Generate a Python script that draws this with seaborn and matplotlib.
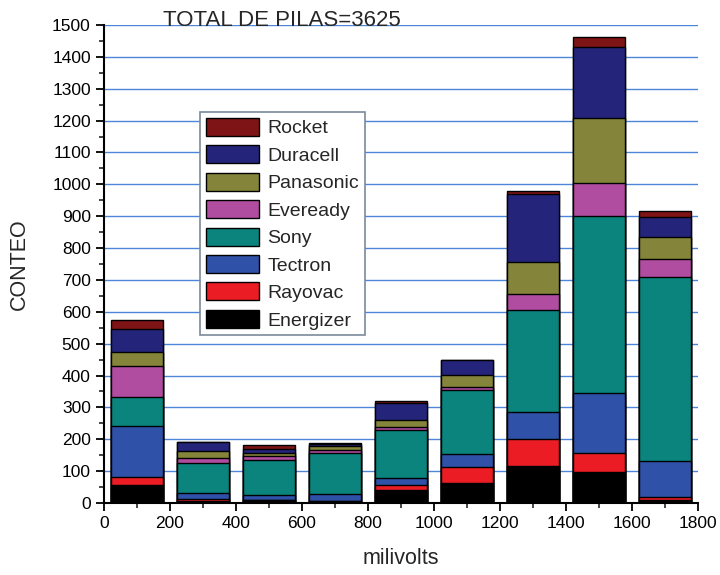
import numpy as np
import pandas as pd
import matplotlib
matplotlib.use("Agg")
import matplotlib.pyplot as plt
from matplotlib.ticker import MultipleLocator
import seaborn as sns

# centros de los intervalos (milivolts)
milivolts = [100, 300, 500, 700, 900, 1100, 1300, 1500, 1700]

# conteo por marca, de abajo hacia arriba
marcas = ["Energizer", "Rayovac", "Tectron", "Sony", "Eveready", "Panasonic", "Duracell", "Rocket"]
energizer = [57, 5, 9, 5, 41, 62, 116, 98, 8]
rayovac = [25, 7, 0, 0, 15, 52, 84, 58, 12]
tectron = [160, 20, 16, 23, 21, 40, 86, 190, 112]
sony = [91, 95, 110, 130, 152, 201, 320, 554, 578]
eveready = [98, 15, 13, 8, 10, 8, 50, 103, 55]
panasonic = [44, 21, 10, 13, 21, 39, 101, 204, 69]
duracell = [70, 28, 12, 7, 55, 47, 213, 225, 64]
rocket = [29, 1, 12, 3, 6, 0, 10, 31, 19]

colores = ["#000000", "#ec1c24", "#2f52a8", "#0b847e", "#b04da0", "#84853a", "#24257a", "#7f1416"]

df = pd.DataFrame({"Energizer": energizer, "Rayovac": rayovac, "Tectron": tectron,
                   "Sony": sony, "Eveready": eveready, "Panasonic": panasonic,
                   "Duracell": duracell, "Rocket": rocket}, index=milivolts)
acumulado = df[marcas].cumsum(axis=1)

sns.set_style("white")
plt.rcParams["font.family"] = ["Liberation Sans", "DejaVu Sans"]

fig = plt.figure(figsize=(7.2, 5.75), dpi=100)
ax = fig.add_axes([0.1444, 0.1252, 0.825, 0.8313])

# se dibuja de la capa superior a la inferior, cada una encima de la anterior
for marca, color in zip(marcas[::-1], colores[::-1]):
    sns.barplot(x=milivolts, y=acumulado[marca].values, native_scale=True,
                color=color, saturation=1, width=0.8, edgecolor="black",
                linewidth=1, label=marca, ax=ax, zorder=3)

ax.set_xlim(0, 1800)
ax.set_ylim(0, 1500)
ax.xaxis.set_major_locator(MultipleLocator(200))
ax.xaxis.set_minor_locator(MultipleLocator(100))
ax.yaxis.set_major_locator(MultipleLocator(100))
ax.yaxis.set_minor_locator(MultipleLocator(50))
ax.tick_params(which="major", direction="out", length=6, width=1.3, labelsize=12.5,
               left=True, bottom=True, colors="black")
ax.tick_params(which="minor", direction="out", length=3.5, width=1.2, left=True, bottom=True)

ax.grid(axis="y", which="major", color="#4d86d8", linewidth=1, zorder=0)
ax.get_ygridlines()[-1].set_visible(False)
ax.get_ygridlines()[0].set_visible(False)
ax.set_axisbelow(True)

for s in ["top", "right"]:
    ax.spines[s].set_visible(False)
for s in ["left", "bottom"]:
    ax.spines[s].set_color("black")
    ax.spines[s].set_linewidth(1.5)

ax.set_xlabel("milivolts", fontsize=15.5, labelpad=12)
ax.set_ylabel("CONTEO", fontsize=15.5, labelpad=16)

leg = ax.legend(loc="upper left", bbox_to_anchor=(0.162, 0.818), borderaxespad=0,
                fontsize=14, handlelength=2.7, handleheight=1.05, labelspacing=0.4,
                handletextpad=0.45, borderpad=0.3, fancybox=False, frameon=True,
                framealpha=1)
leg.get_frame().set_edgecolor("#7a8a9a")
leg.get_frame().set_linewidth(1.2)
leg.set_zorder(5)

fig.text(0.227, 0.965, "TOTAL DE PILAS=3625", fontsize=16, va="center", ha="left")

fig.savefig("out.png", dpi=100)
